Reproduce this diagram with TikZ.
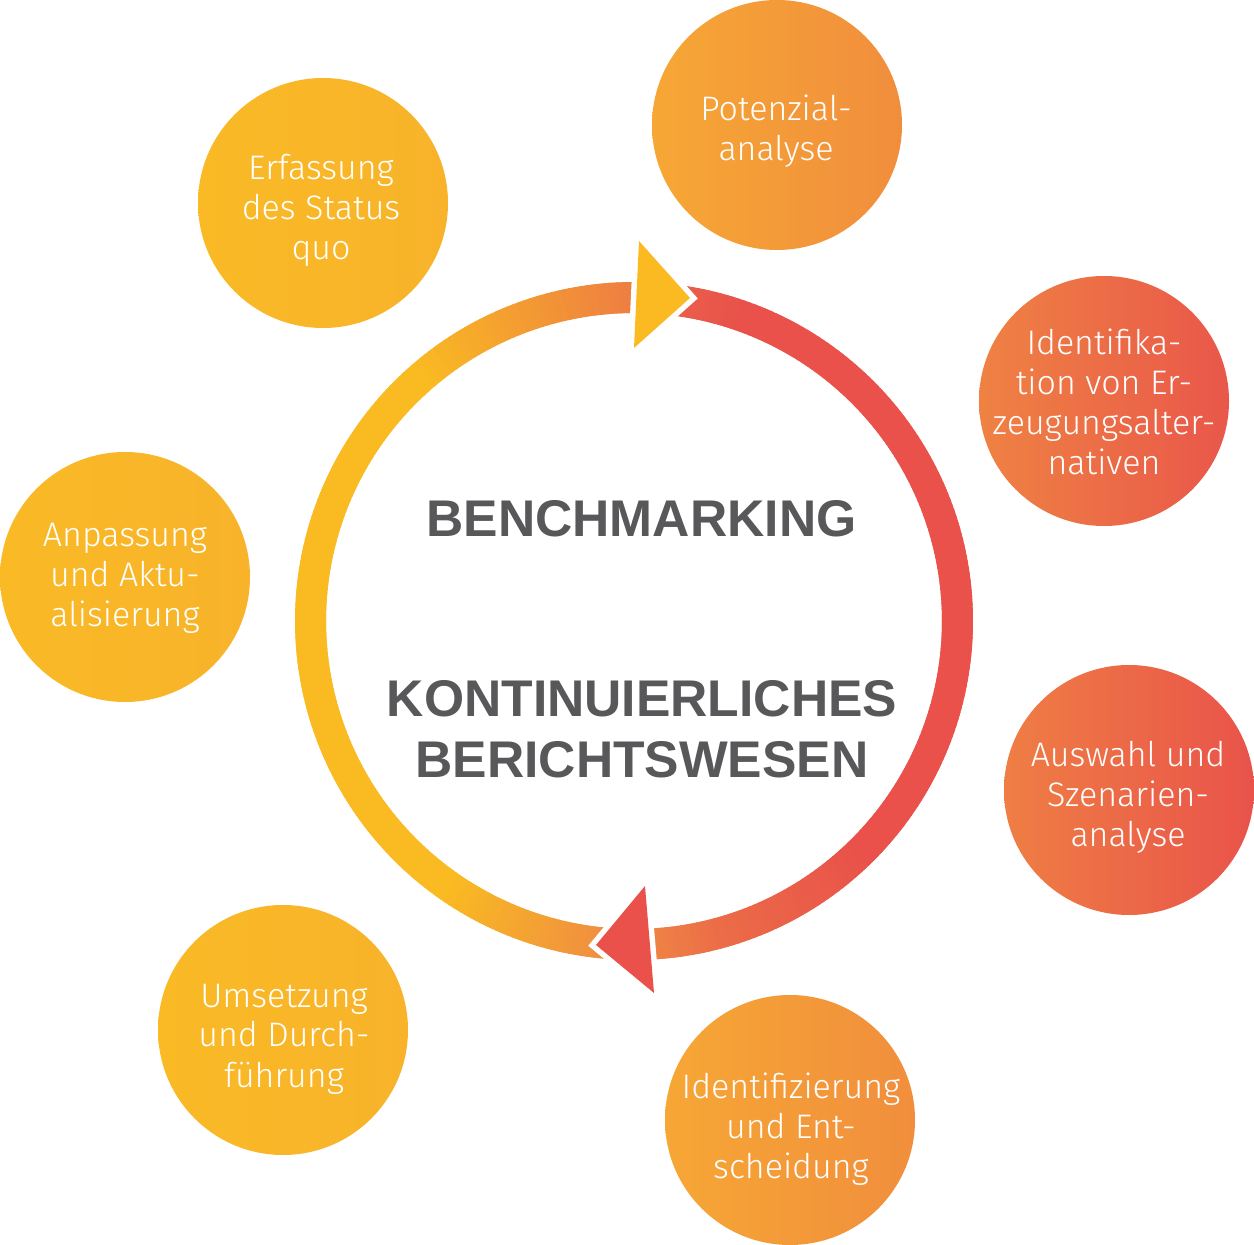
\documentclass[tikz,border=0pt]{standalone}
\usepackage{fontspec}
\setmainfont{Liberation Sans}
\newfontfamily\circfont{Fira Sans Light}
\usetikzlibrary{calc}

\definecolor{ringred}{HTML}{E9514A}
\definecolor{ringsalmon}{HTML}{E8684B}
\definecolor{ringorA}{HTML}{EB6C47}
\definecolor{ringorB}{HTML}{EF8545}
\definecolor{ringorC}{HTML}{F09040}
\definecolor{ringyellow}{HTML}{F9BA22}
\definecolor{ringtop}{HTML}{EE7E42}
\definecolor{arrowyellow}{HTML}{FBBA22}
\definecolor{arrowred}{HTML}{E9514A}
\definecolor{yelA}{HTML}{F9BA26}
\definecolor{yelB}{HTML}{F8B32A}
\definecolor{orA}{HTML}{F6A735}
\definecolor{orB}{HTML}{F18E3D}
\definecolor{rdA}{HTML}{EF8243}
\definecolor{rdB}{HTML}{E9574A}
\definecolor{rdC}{HTML}{EF7E44}
\definecolor{rdD}{HTML}{E9534A}
\definecolor{textgray}{HTML}{58585A}

\newcommand\mylines[1]{\begin{tabular}[t]{@{}c@{}}#1\end{tabular}}

% gradient arc of the ring: t measured clockwise from the top
\newcommand\gradarc[4]{%
  \pgfmathtruncatemacro\gN{(#2)-(#1)}%
  \foreach \k in {1,...,\gN}{%
    \pgfmathsetmacro\ga{(#1)+\k-1-90-0.4}%
    \pgfmathsetmacro\gb{(#1)+\k-90+0.4}%
    \pgfmathsetmacro\gp{100-100*(\k-0.5)/\gN}%
    \fill[#3!\gp!#4] ($(rc)+(\ga:308)$) -- ($(rc)+(\ga:339)$) -- ($(rc)+(\gb:339)$) -- ($(rc)+(\gb:308)$) -- cycle;
  }%
}

\tikzset{
  stepcirc/.style={circle, minimum size=125pt, inner sep=0pt, draw=none},
  ctext/.style={anchor=base, text=white, inner sep=0pt,
    font=\circfont\fontsize{17}{20}\selectfont},
  htext/.style={anchor=base, text=textgray, inner sep=0pt,
    font=\bfseries\fontsize{25.8}{30.5}\selectfont},
  gapline/.style={white, line width=5.5pt, line join=miter}
}

\begin{document}
\begin{tikzpicture}[x=0.5pt, y=-0.5pt]
\useasboundingbox (0,0) rectangle (1254,1245);
\fill[white] (0,0) rectangle (1254,1245);

% ring
\coordinate (rc) at (634,621);
\gradarc{0}{20}{ringsalmon}{ringred}
\gradarc{20}{135}{ringred}{ringred}
\gradarc{135}{165}{ringred}{ringorA}
\gradarc{165}{178}{ringorA}{ringorB}
\gradarc{178}{187}{ringorB}{ringorC}
\gradarc{187}{215}{ringorC}{ringyellow}
\gradarc{215}{320}{ringyellow}{ringyellow}
\gradarc{320}{360}{ringyellow}{ringtop}

% top arrow
\coordinate (ta1) at (639,241);
\coordinate (ta2) at (690,298);
\coordinate (ta3) at (634,348);
\filldraw[gapline] (ta1) -- (ta2) -- (ta3) -- cycle;
\fill[arrowyellow] (ta1) -- (ta2) -- (ta3) -- cycle;

% bottom arrow
\coordinate (ba1) at (645,886);
\coordinate (ba2) at (596,945);
\coordinate (ba3) at (654,993);
\filldraw[gapline] (ba1) -- (ba2) -- (ba3) -- cycle;
\fill[arrowred] (ba1) -- (ba2) -- (ba3) -- cycle;

% circles
\node[stepcirc, left color=yelA, right color=yelB] (c1) at (323,203) {};
\node[stepcirc, left color=orA, right color=orB] (c2) at (777,125) {};
\node[stepcirc, left color=rdA, right color=rdB] (c3) at (1104,401) {};
\node[stepcirc, left color=rdC, right color=rdD] (c4) at (1129,790) {};
\node[stepcirc, left color=orA, right color=orB] (c5) at (790,1120) {};
\node[stepcirc, left color=yelA, right color=yelB] (c6) at (283,1030) {};
\node[stepcirc, left color=yelA, right color=yelB] (c7) at (125,577) {};

% circle texts
\node[ctext] (t1) at (321,180) {\mylines{Erfassung\\des Status\\quo}};
\node[ctext] (t2) at (776,121) {\mylines{Potenzial-\\analyse}};
\node[ctext] (t3) at (1104,355) {\mylines{Identifika-\\tion von Er-\\zeugungsalter-\\nativen}};
\node[ctext] (t4) at (1128,767) {\mylines{Auswahl und\\Szenarien-\\analyse}};
\node[ctext] (t5) at (791,1098) {\mylines{Identifizierung\\und Ent-\\scheidung}};
\node[ctext] (t6) at (284,1007) {\mylines{Umsetzung\\und Durch-\\führung}};
\node[ctext] (t7) at (125,547) {\mylines{Anpassung\\und Aktu-\\alisierung}};

% center texts
\node[htext] (h1) at (641.5,537) {BENCHMARKING};
\node[htext] (h2) at (642,717) {\mylines{KONTINUIERLICHES\\BERICHTSWESEN}};
\end{tikzpicture}
\end{document}
